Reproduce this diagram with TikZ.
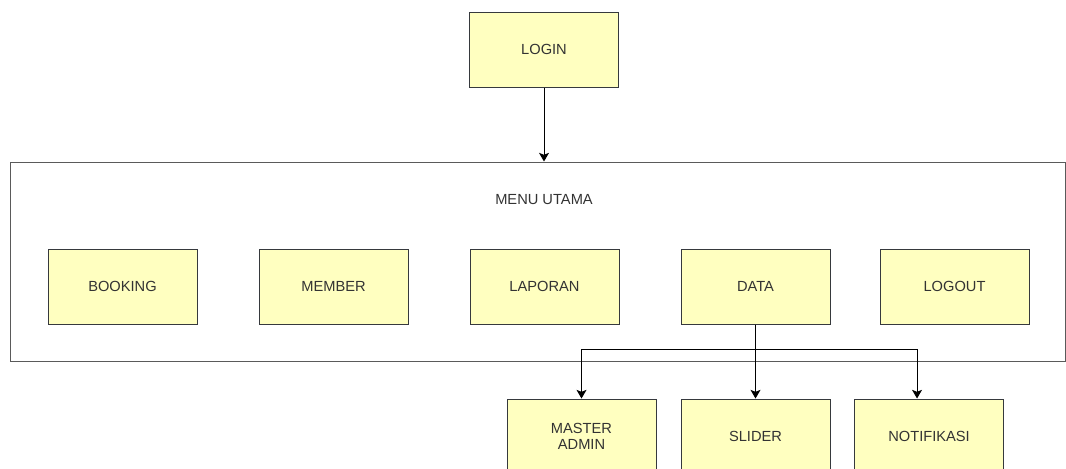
\documentclass[tikz,border=0pt]{standalone}
\usepackage{fontspec}
\setmainfont{Liberation Sans}
\usetikzlibrary{arrows.meta, positioning}
\definecolor{itemfill}{RGB}{255,255,192}
\definecolor{itemline}{RGB}{54,57,61}
\definecolor{frameline}{RGB}{90,90,90}
\definecolor{textgray}{RGB}{51,51,51}
\tikzstyle{item} = [rectangle, minimum width=111.75pt, minimum height=56.25pt, text centered, align=center, draw=itemline, line width=0.75pt, fill=itemfill, text=textgray, font=\fontsize{11}{12.5}\selectfont]
\tikzstyle{frame} = [rectangle, minimum width=791.25pt, minimum height=149.25pt, draw=frameline, line width=0.75pt]
\tikzstyle{caption} = [text=textgray, font=\fontsize{11}{12.5}\selectfont]
\tikzstyle{arrow} = [line width=0.75pt, -{Stealth[length=6.5pt, width=7.5pt, inset=1.5pt]}]

\begin{document}
\begin{tikzpicture}[x=0.75pt, y=-0.75pt, node distance=45.75pt]
\useasboundingbox (0,0) rectangle (1066,468);

%top box and the main menu frame
\node (login) [item] at (544,49.5) {LOGIN};
\node (menu) [frame] at (537.5,261.5) {};
\node (title) [caption] at (544,200) {MENU UTAMA};

%menu items, left to right
\node (booking) [item] at (122.5,286.5) {BOOKING};
\node (member) [item, right=of booking] {MEMBER};
\node (laporan) [item, right=of member] {LAPORAN};
\node (data) [item, right=of laporan] {DATA};
\node (logout) [item, right=36.75pt of data] {LOGOUT};

%sub items of DATA
\node (slider) [item, below=55.5pt of data] {SLIDER};
\node (master) [item, left=18pt of slider] {MASTER\\ADMIN};
\node (notif) [item, right=17.65pt of slider] {NOTIFIKASI};

\draw [arrow] (login.south) -- (login.south |- menu.north);
\draw [arrow] (data) -- (slider);
\draw [arrow] (data.south) -- ++(0,25) -| (master.north);
\draw [arrow] (data.south) -- ++(0,25) -| ([xshift=-9pt]notif.north);

\end{tikzpicture}
\end{document}
